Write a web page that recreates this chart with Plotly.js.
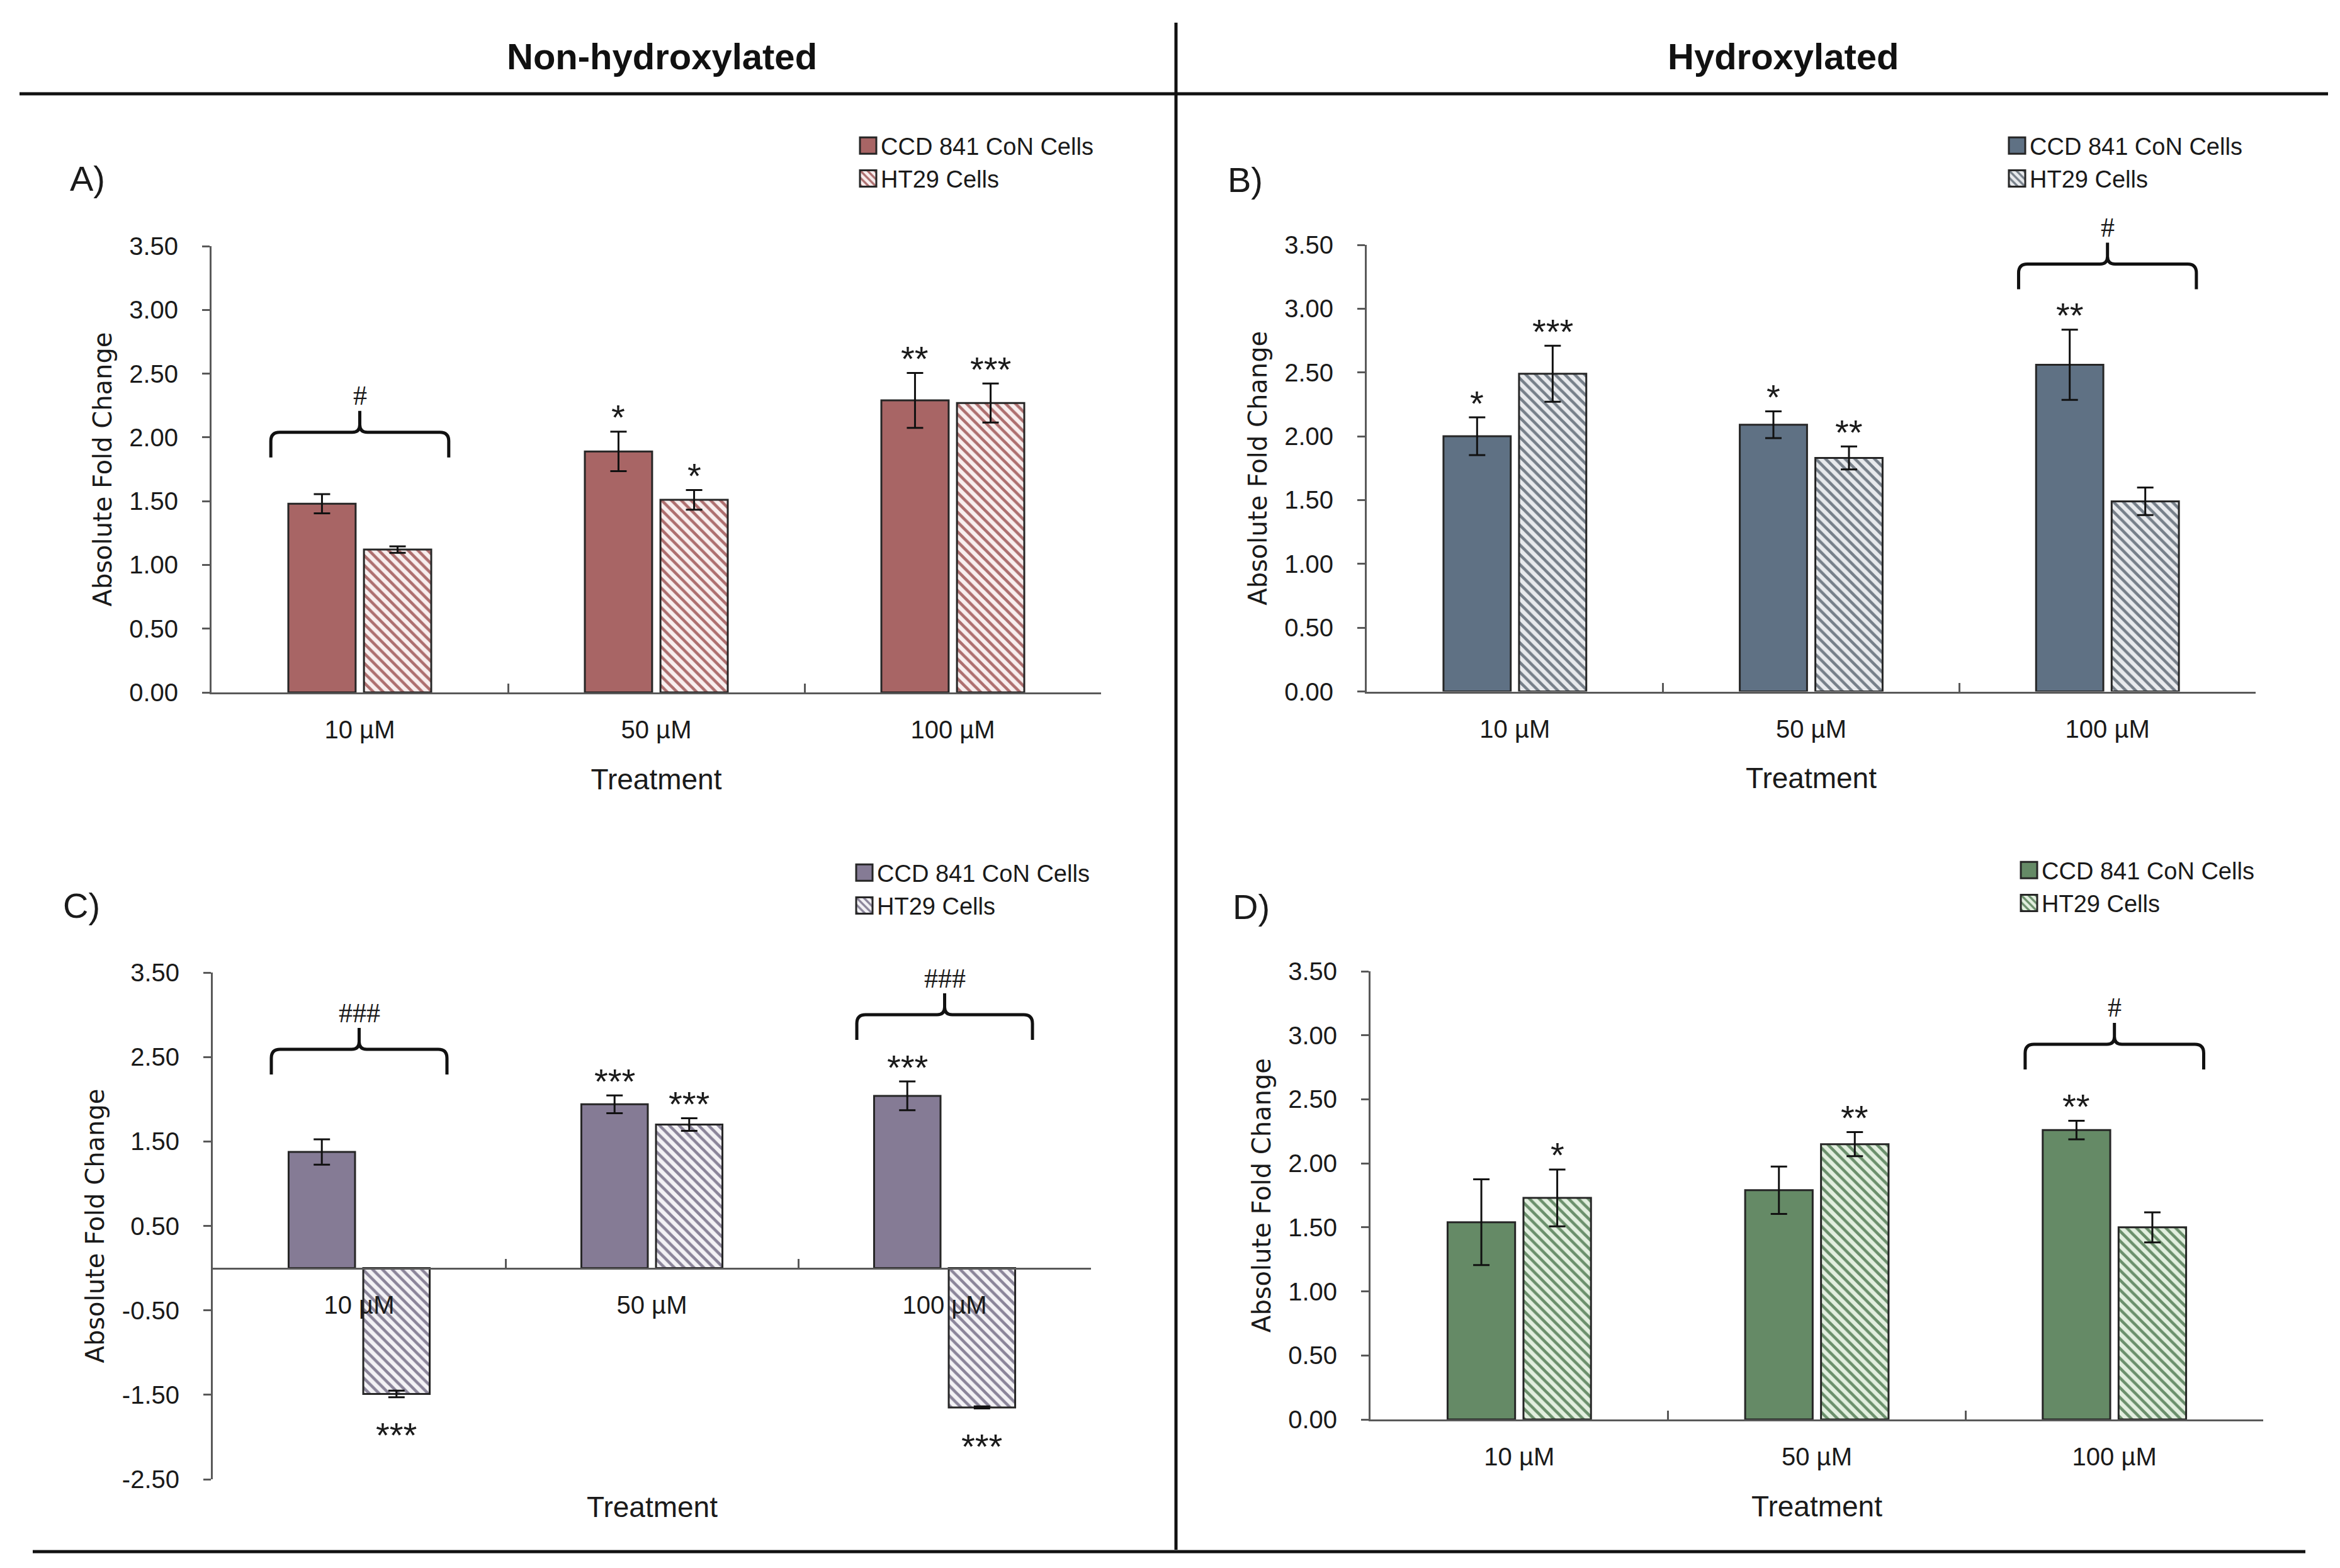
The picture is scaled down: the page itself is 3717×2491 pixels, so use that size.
<!DOCTYPE html>
<html><head><meta charset="utf-8">
<script src="https://cdn.plot.ly/plotly-3.0.1.min.js"></script>
<style>
html,body{margin:0;padding:0;background:#fff}
</style></head>
<body><div id="chart" style="width:3717px;height:2491px"></div>
<script>
// ---------- data ----------
const categories = ['10 µM', '50 µM', '100 µM'];
const seriesNames = ['CCD 841 CoN Cells', 'HT29 Cells'];
const yTicksPos = [0, 0.5, 1, 1.5, 2, 2.5, 3, 3.5];
const yTicksC = [-2.5, -1.5, -0.5, 0.5, 1.5, 2.5, 3.5];

// A) Non-hydroxylated
const aCCD = [1.48, 1.89, 2.29];
const aCCDErr = [0.075, 0.155, 0.215];
const aHT29 = [1.12, 1.51, 2.27];
const aHT29Err = [0.025, 0.077, 0.153];
const aCCDStars = ['', '*', '**'];
const aHT29Stars = ['', '*', '***'];
const aBracketCats = [0];
const aBracketY = [2.04];
const aBracketText = ['#'];

// B) Hydroxylated
const bCCD = [2.00, 2.09, 2.56];
const bCCDErr = [0.148, 0.105, 0.275];
const bHT29 = [2.49, 1.83, 1.49];
const bHT29Err = [0.22, 0.09, 0.108];
const bCCDStars = ['*', '*', '**'];
const bHT29Stars = ['***', '**', ''];
const bBracketCats = [2];
const bBracketY = [3.35];
const bBracketText = ['#'];

// C) Non-hydroxylated
const cCCD = [1.375, 1.94, 2.04];
const cCCDErr = [0.15, 0.105, 0.17];
const cHT29 = [-1.49, 1.70, -1.65];
const cHT29Err = [0.04, 0.075, 0.012];
const cCCDStars = ['', '***', '***'];
const cHT29Stars = ['***', '***', '***'];
const cBracketCats = [0, 2];
const cBracketY = [2.59, 3.0];
const cBracketText = ['###', '###'];

// D) Hydroxylated
const dCCD = [1.54, 1.79, 2.26];
const dCCDErr = [0.335, 0.185, 0.072];
const dHT29 = [1.73, 2.15, 1.50];
const dHT29Err = [0.222, 0.094, 0.117];
const dCCDStars = ['', '', '**'];
const dHT29Stars = ['*', '**', ''];
const dBracketCats = [2];
const dBracketY = [2.93];
const dBracketText = ['#'];

// ---------- styling / layout ----------
const W = 3717, H = 2491;
const BARGAP = 0.49, BARGROUPGAP = 0.11;
const TXT = '#1a1a1a';
const AX = '#595959';
const tickFamily = 'Liberation Sans, Arial, sans-serif';

const panels = [
  {key: 'A', xa: 'x', ya: 'y', lg: 'legend', px: [336, 1749], py: [391, 1100], range: [0, 3.5], ticks: yTicksPos,
   ccd: aCCD, ccdErr: aCCDErr, ht: aHT29, htErr: aHT29Err, ccdStars: aCCDStars, htStars: aHT29Stars,
   bCats: aBracketCats, bY: aBracketY, bText: aBracketText,
   fill: '#a86565', hatchFg: '#ad6e6e', hatchBg: '#f8eeee', legX: 1359, legTop: 200, label: 'A)', labelPos: [139, 283]},
  {key: 'B', xa: 'x2', ya: 'y2', lg: 'legend2', px: [2171, 3583], py: [389, 1098.5], range: [0, 3.5], ticks: yTicksPos,
   ccd: bCCD, ccdErr: bCCDErr, ht: bHT29, htErr: bHT29Err, ccdStars: bCCDStars, htStars: bHT29Stars,
   bCats: bBracketCats, bY: bBracketY, bText: bBracketText,
   fill: '#5f7184', hatchFg: '#767f89', hatchBg: '#e8eaed', legX: 3184, legTop: 200, label: 'B)', labelPos: [1978, 285]},
  {key: 'C', xa: 'x3', ya: 'y3', lg: 'legend3', px: [338, 1733], py: [1545, 2350], range: [-2.5, 3.5], ticks: yTicksC,
   ccd: cCCD, ccdErr: cCCDErr, ht: cHT29, htErr: cHT29Err, ccdStars: cCCDStars, htStars: cHT29Stars,
   bCats: cBracketCats, bY: cBracketY, bText: cBracketText,
   fill: '#857b95', hatchFg: '#8a8499', hatchBg: '#f3f2f5', legX: 1353, legTop: 1355, label: 'C)', labelPos: [129, 1438]},
  {key: 'D', xa: 'x4', ya: 'y4', lg: 'legend4', px: [2177, 3595], py: [1543, 2255], range: [0, 3.5], ticks: yTicksPos,
   ccd: dCCD, ccdErr: dCCDErr, ht: dHT29, htErr: dHT29Err, ccdStars: dCCDStars, htStars: dHT29Stars,
   bCats: dBracketCats, bY: dBracketY, bText: dBracketText,
   fill: '#658a66', hatchFg: '#6a8f6b', hatchBg: '#e2efdf', legX: 3203, legTop: 1351, label: 'D)', labelPos: [1987, 1440]}
];

const PX = v => v / W;
const PY = v => 1 - v / H;

function catPx(p, c) { return p.px[0] + (c + 0.5) / 3 * (p.px[1] - p.px[0]); }
function valPx(p, v) { return p.py[1] - (v - p.range[0]) / (p.range[1] - p.range[0]) * (p.py[1] - p.py[0]); }

const traces = [];
const layout = {
  width: W, height: H,
  margin: {l: 0, r: 0, t: 0, b: 0},
  paper_bgcolor: '#fff', plot_bgcolor: 'rgba(0,0,0,0)',
  barmode: 'group', bargap: BARGAP, bargroupgap: BARGROUPGAP,
  font: {family: tickFamily, color: TXT},
  showlegend: true,
  annotations: [], shapes: []
};

const slot = (1 - BARGAP) / 2;
const barOffset = [-slot / 2, slot / 2];

panels.forEach((p, i) => {
  const n = i === 0 ? '' : String(i + 1);
  const err = arr => ({type: 'data', array: arr, visible: true, color: '#111', thickness: 3, width: 13});
  traces.push({
    type: 'bar', name: seriesNames[0], x: categories, y: p.ccd, xaxis: p.xa, yaxis: p.ya, legend: p.lg,
    marker: {color: p.fill, line: {color: '#262626', width: 3}},
    error_y: err(p.ccdErr), hoverinfo: 'y+name'
  });
  traces.push({
    type: 'bar', name: seriesNames[1], x: categories, y: p.ht, xaxis: p.xa, yaxis: p.ya, legend: p.lg,
    marker: {color: p.hatchBg, line: {color: '#262626', width: 3},
      pattern: {shape: '\\', fgcolor: p.hatchFg, bgcolor: p.hatchBg, size: 11, solidity: 0.42, fillmode: 'replace'}},
    error_y: err(p.htErr), hoverinfo: 'y+name'
  });

  const isC = p.key === 'C';
  const zeroPaper = PY(valPx(p, 0));
  layout['xaxis' + n] = {
    domain: [PX(p.px[0]), PX(p.px[1])],
    type: 'category', categoryorder: 'array', categoryarray: categories,
    range: [-0.5, 2.5],
    anchor: isC ? 'free' : p.ya,
    showline: true, linecolor: AX, linewidth: 3,
    ticks: 'inside', tickson: 'boundaries', ticklen: 14, tickwidth: 3, tickcolor: AX,
    showgrid: false, zeroline: false,
    tickfont: {family: tickFamily, size: 40, color: TXT},
    ticklabelstandoff: 22,
    title: isC ? {text: ''} : {text: 'Treatment', font: {family: tickFamily, size: 46, color: TXT}, standoff: 42},
    fixedrange: true
  };
  if (isC) layout['xaxis' + n].position = zeroPaper;
  layout['yaxis' + n] = {
    domain: [PY(p.py[1]), PY(p.py[0])],
    range: p.range, anchor: p.xa,
    tickmode: 'array', tickvals: p.ticks, ticktext: p.ticks.map(v => v.toFixed(2)),
    showline: true, linecolor: AX, linewidth: 3,
    ticks: 'outside', ticklen: 12, tickwidth: 3, tickcolor: AX,
    showgrid: false, zeroline: false,
    tickfont: {family: tickFamily, size: 40, color: TXT},
    ticklabelstandoff: 30,
    title: {text: 'Absolute Fold Change', font: {family: 'DejaVu Sans, sans-serif', size: 40, color: TXT}, standoff: 16},
    fixedrange: true
  };
  layout[p.lg] = {
    x: PX(p.legX), y: PY(p.legTop), xanchor: 'left', yanchor: 'top',
    bgcolor: 'rgba(0,0,0,0)', borderwidth: 0, itemwidth: 30, tracegroupgap: 0,
    font: {family: tickFamily, size: 38, color: TXT}, traceorder: 'normal'
  };

  // stars
  const addStars = (stars, vals, errs, side) => {
    stars.forEach((s, c) => {
      if (!s) return;
      const neg = vals[c] < 0;
      const yv = neg ? vals[c] - errs[c] : vals[c] + errs[c];
      layout.annotations.push({
        xref: p.xa, yref: p.ya, x: c + barOffset[side], y: yv,
        text: s, showarrow: false, yanchor: 'middle', xanchor: 'center',
        yshift: neg ? -60 : 23,
        font: {family: tickFamily, size: 56, color: TXT}
      });
    });
  };
  addStars(p.ccdStars, p.ccd, p.ccdErr, 0);
  addStars(p.htStars, p.ht, p.htErr, 1);

  // brackets (significance between cell lines)
  p.bCats.forEach((c, k) => {
    const cw = (p.px[1] - p.px[0]) / 3;
    const xc = catPx(p, c), xl = xc - 0.3 * cw, xr = xc + 0.3 * cw;
    const yl = valPx(p, p.bY[k]), ye = yl + 40, yp = yl - 34;
    const r = 14, cc = 12;
    const P = (x, y) => PX(x).toFixed(5) + ',' + PY(y).toFixed(5);
    const d = 'M' + P(xl, ye) + ' L' + P(xl, yl + r) + ' Q' + P(xl, yl) + ' ' + P(xl + r, yl) +
      ' L' + P(xc - cc, yl) + ' Q' + P(xc, yl) + ' ' + P(xc, yl - cc) + ' L' + P(xc, yp) +
      ' L' + P(xc, yl - cc) + ' Q' + P(xc, yl) + ' ' + P(xc + cc, yl) +
      ' L' + P(xr - r, yl) + ' Q' + P(xr, yl) + ' ' + P(xr, yl + r) + ' L' + P(xr, ye);
    layout.shapes.push({type: 'path', xref: 'paper', yref: 'paper', path: d, line: {color: '#111', width: 5}});
    layout.annotations.push({
      xref: 'paper', yref: 'paper', x: PX(xc), y: PY(yl - 58), text: p.bText[k], showarrow: false,
      xanchor: 'center', yanchor: 'middle', font: {family: 'Liberation Serif, serif', size: 44, color: TXT}
    });
  });

  // panel label
  layout.annotations.push({
    xref: 'paper', yref: 'paper', x: PX(p.labelPos[0]), y: PY(p.labelPos[1]), text: p.label,
    showarrow: false, xanchor: 'center', yanchor: 'middle', font: {family: tickFamily, size: 56, color: TXT}
  });

  if (isC) {
    layout.annotations.push({
      xref: 'paper', yref: 'paper', x: PX((p.px[0] + p.px[1]) / 2), y: PY(2394), text: 'Treatment',
      showarrow: false, xanchor: 'center', yanchor: 'middle', font: {family: tickFamily, size: 46, color: TXT}
    });
  }
});

// section headers
layout.annotations.push({xref: 'paper', yref: 'paper', x: PX(1051), y: PY(90), text: '<b>Non-hydroxylated</b>',
  showarrow: false, xanchor: 'center', yanchor: 'middle', font: {family: tickFamily, size: 58, color: '#111'}});
layout.annotations.push({xref: 'paper', yref: 'paper', x: PX(2832), y: PY(90), text: '<b>Hydroxylated</b>',
  showarrow: false, xanchor: 'center', yanchor: 'middle', font: {family: tickFamily, size: 58, color: '#111'}});

// frame lines
layout.shapes.push({type: 'line', xref: 'paper', yref: 'paper', x0: PX(31), x1: PX(3698), y0: PY(149), y1: PY(149), line: {color: '#111', width: 5}});
layout.shapes.push({type: 'line', xref: 'paper', yref: 'paper', x0: PX(1868), x1: PX(1868), y0: PY(36), y1: PY(2462), line: {color: '#111', width: 5}});
layout.shapes.push({type: 'line', xref: 'paper', yref: 'paper', x0: PX(52), x1: PX(3662), y0: PY(2465), y1: PY(2465), line: {color: '#111', width: 5}});

Plotly.newPlot('chart', traces, layout, {displayModeBar: false, staticPlot: true}).then(gd => {
  // enlarge legend swatches to match the reference's square keys
  gd.querySelectorAll('.legendpoints path').forEach(el => {
    const d = el.getAttribute('d') || '';
    if (/^M6,6H-6V-6H6Z$/.test(d.replace(/\s/g, ''))) el.setAttribute('d', 'M13,13H-13V-13H13Z');
  });
});
</script>
</body></html>
